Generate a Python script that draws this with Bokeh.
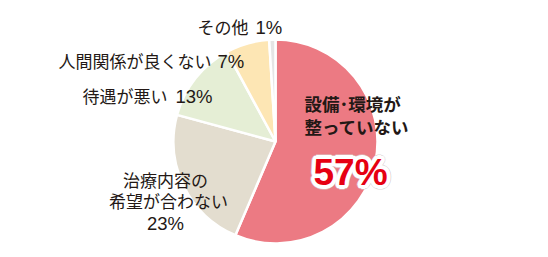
import math
from bokeh.plotting import figure
from bokeh.models import Range1d, ColumnDataSource
from bokeh.core.properties import value
from bokeh.embed import file_html
from bokeh.resources import INLINE

categories = ["設備・環境が整っていない", "治療内容の希望が合わない", "待遇が悪い", "人間関係が良くない", "その他"]
percents = [57, 23, 13, 7, 1]
colors = ["#EC7A83", "#E3DDCF", "#E5EED5", "#FDE6B4", "#E5E5E5"]

W, H = 548, 257
cx, cy, r = 275, H - 141, 102

total = sum(percents)
starts, ends = [], []
acc = 0.0
for v in percents:
    a0 = math.pi / 2 - 2 * math.pi * acc / total
    acc += v
    a1 = math.pi / 2 - 2 * math.pi * acc / total
    starts.append(a0)
    ends.append(a1)

p = figure(width=W, height=H, output_backend="svg", toolbar_location=None,
           x_range=Range1d(0, W), y_range=Range1d(0, H), min_border=0)
p.axis.visible = False
p.grid.visible = False
p.outline_line_color = None
p.background_fill_color = "white"
p.border_fill_color = "white"

src = ColumnDataSource(dict(start=starts, end=ends, color=colors))
p.wedge(x=cx, y=cy, radius=r, start_angle="start", end_angle="end", direction="clock",
        fill_color="color", line_color="white", line_width=2.5, source=src)

jp = value("Noto Sans CJK JP")
num = value("Liberation Sans")
dark = "#231815"

def label(x, y, t, size, align="left", style="normal", color=dark, font=jp):
    p.text(x=[x], y=[H - y], text=[t], text_font=font, text_font_size=f"{size}px",
           text_align=align, text_baseline="middle", text_color=color, text_font_style=style)

label(197, 26, "その他", 17)
label(255, 27, f"{percents[4]}%", 18.5, font=num)
label(58, 60, "人間関係が良くない", 17)
label(217, 61, f"{percents[3]}%", 18.5, font=num)
label(82, 95, "待遇が悪い", 17)
label(175, 96, f"{percents[2]}%", 18.5, font=num)
label(165, 179, "治療内容の", 17, "center")
label(168, 200, "希望が合わない", 17, "center")
label(165, 223, f"{percents[1]}%", 18.5, "center", font=num)
label(304, 103, "設備･環境が", 17.5, style="bold")
label(304, 126, "整っていない", 17.5, style="bold")

# big percentage with white outline
bx, by = 313, H - 172
big = f"{percents[0]}%"
rings = [(4.6, "#D8D0D0", 0.5), (3.6, "white", 1.0)]
for rad, col, alpha in rings:
    n = 24
    xs = [bx + rad * math.cos(2 * math.pi * k / n) for k in range(n)]
    ys = [by + rad * math.sin(2 * math.pi * k / n) for k in range(n)]
    p.text(x=xs, y=ys, text=[big] * n, text_font=num, text_font_size="37px",
           text_font_style="bold", text_align="left", text_baseline="middle",
           text_color=col, text_alpha=alpha)
p.text(x=[bx], y=[by], text=[big], text_font=num, text_font_size="37px",
       text_font_style="bold", text_align="left", text_baseline="middle", text_color="#E60012")

open("out.html", "w").write(file_html(p, INLINE))
